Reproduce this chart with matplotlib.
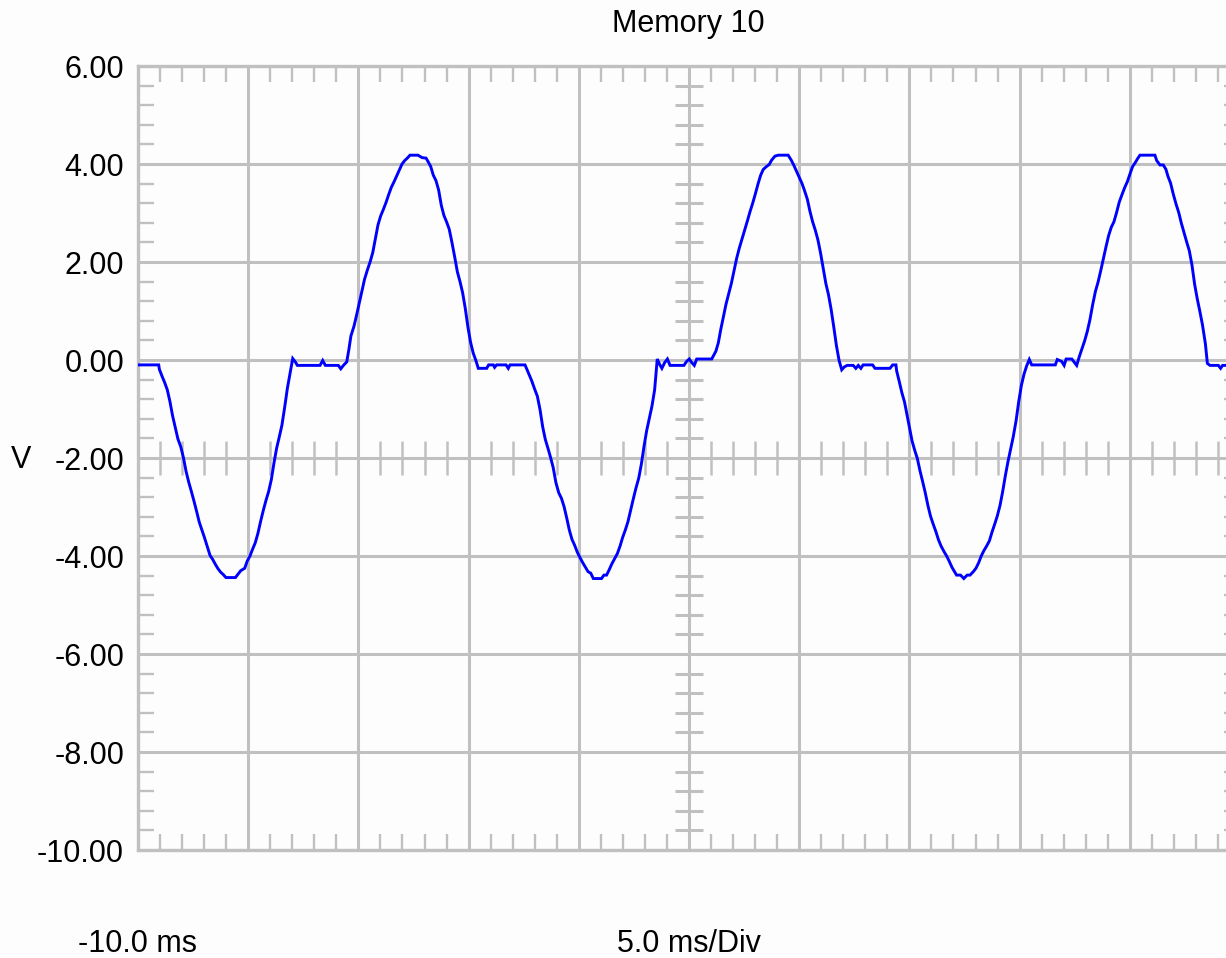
import numpy as np
import matplotlib
matplotlib.use("Agg")
import matplotlib.pyplot as plt
from matplotlib.ticker import MultipleLocator, FixedLocator

plt.rcParams['font.family'] = ['Liberation Sans', 'DejaVu Sans']

# ---------------- data ----------------
title = "Memory 10"
y_label = "V"
x_start_label = "-10.0 ms"
x_scale_label = "5.0 ms/Div"
y_tick_values = [6, 4, 2, 0, -2, -4, -6, -8, -10]
y_tick_labels = ["6.00", "4.00", "2.00", "0.00", "-2.00", "-4.00", "-6.00", "-8.00", "-10.00"]

t_ms = [
    -10.00, -9.06, -9.03, -8.91, -8.79, -8.67, -8.55, -8.43, -8.31, -8.19, -8.06,
    -7.94, -7.82, -7.70, -7.58, -7.46, -7.34, -7.22, -7.10, -6.98, -6.85, -6.73,
    -6.61, -6.49, -6.37, -6.25, -6.13, -6.01, -5.58, -5.46, -5.34, -5.16, -5.04,
    -4.92, -4.80, -4.68, -4.56, -4.43, -4.31, -4.19, -4.07, -3.95, -3.83, -3.71,
    -3.59, -3.47, -3.35, -3.22, -3.10, -2.98, -2.86, -2.77, -1.74, -1.62, -1.50,
    -0.91, -0.80, -0.68, -0.53, -0.43, -0.34, -0.20, -0.08, 0.04, 0.16, 0.28,
    0.41, 0.53, 0.65, 0.77, 0.89, 1.01, 1.13, 1.25, 1.37, 1.49, 1.62, 1.74, 1.86,
    1.98, 2.10, 2.22, 2.34, 2.70, 2.89, 3.07, 3.16, 3.28, 3.40, 3.52, 3.64, 3.76,
    3.88, 4.00, 4.12, 4.24, 4.37, 4.49, 4.61, 4.73, 4.85, 4.97, 5.09, 5.21, 5.33,
    5.44, 5.82, 5.91, 6.12, 6.18, 6.27, 6.70, 6.80, 6.88, 7.56, 7.71, 7.86, 8.01,
    8.12, 8.24, 8.36, 8.48, 8.60, 8.72, 8.84, 8.96, 9.09, 9.21, 9.33, 9.45, 9.57,
    9.69, 9.81, 9.93, 10.05, 10.17, 10.29, 10.42, 10.54, 10.66, 11.03, 11.14,
    11.26, 11.38, 11.50, 11.63, 11.75, 11.87, 11.99, 12.11, 12.23, 12.35, 12.47,
    12.59, 12.72, 12.84, 12.96, 13.08, 13.20, 13.32, 13.44, 13.56, 13.68, 13.77,
    13.90, 14.02, 14.14, 14.77, 14.89, 15.01, 15.12, 15.24, 15.35, 16.03, 16.10,
    16.22, 16.33, 16.44, 16.56, 16.68, 16.80, 16.92, 17.04, 17.16, 17.28, 17.40,
    17.53, 17.65, 17.77, 17.89, 18.01, 18.13, 18.25, 18.37, 18.52, 18.64, 18.75,
    18.90, 19.05, 19.50, 19.65, 19.76, 19.88, 20.00, 20.12, 20.24, 20.37, 20.49,
    20.61, 20.73, 20.85, 20.97, 21.09, 21.21, 21.33, 21.45, 21.57, 21.69, 21.81,
    21.93, 22.05, 22.18, 22.45, 22.57, 22.68, 22.80, 22.90, 23.33, 23.44, 24.12,
    24.24, 24.39, 24.42, 24.54, 24.66, 24.78, 24.87, 24.99, 25.12, 25.24, 25.36,
    25.48, 25.60, 25.72, 25.84, 25.96, 26.08, 26.20, 26.32, 26.44, 26.57, 26.69,
    26.81, 26.93, 27.05, 27.14, 27.32, 27.47, 27.62, 27.75, 27.90, 28.02, 28.14,
    28.26, 28.38, 28.50, 28.63, 28.75, 28.87, 28.99, 29.11, 29.23, 29.35, 29.47,
    29.59, 29.71, 29.84, 29.96, 30.08, 30.20, 30.32, 30.44, 30.55, 31.53, 31.62,
    31.71, 31.91, 32.02, 32.11, 32.37, 32.47, 32.59, 32.71, 32.83, 32.95, 33.07,
    33.19, 33.32, 33.44, 33.56, 33.68, 33.80, 33.92, 34.04, 34.16, 34.28, 34.40,
    34.52, 34.65, 34.77, 34.89, 35.01, 35.13, 35.25, 35.37, 35.46, 36.14, 36.22,
    36.37, 36.52, 36.64, 36.73, 36.85, 36.97, 37.10, 37.22, 37.34, 37.46, 37.58,
    37.70, 37.82, 37.94, 38.06, 38.18, 38.30, 38.43, 38.52, 38.64, 39.02, 39.12,
    39.21, 39.36, 40.00,
]

volts = [
    -0.10, -0.10, -0.19, -0.33, -0.46, -0.61, -0.85, -1.14, -1.38, -1.61, -1.77,
    -1.99, -2.27, -2.49, -2.68, -2.88, -3.09, -3.31, -3.47, -3.63, -3.82, -3.99,
    -4.07, -4.17, -4.26, -4.33, -4.38, -4.44, -4.44, -4.37, -4.30, -4.25, -4.10,
    -4.00, -3.86, -3.73, -3.54, -3.28, -3.06, -2.86, -2.68, -2.44, -2.10, -1.80,
    -1.57, -1.33, -0.98, -0.57, -0.27, 0.03, -0.04, -0.11, -0.11, -0.01, -0.11,
    -0.11, -0.18, -0.11, -0.04, 0.22, 0.49, 0.69, 0.92, 1.16, 1.41, 1.65,
    1.84, 2.00, 2.19, 2.48, 2.76, 2.94, 3.07, 3.21, 3.37, 3.52, 3.64, 3.76, 3.88,
    4.00, 4.07, 4.12, 4.18, 4.18, 4.13, 4.12, 4.05, 3.95, 3.77, 3.66, 3.47, 3.16,
    2.95, 2.82, 2.67, 2.41, 2.10, 1.80, 1.60, 1.37, 1.05, 0.67, 0.36, 0.14, -0.01,
    -0.17, -0.17, -0.10, -0.10, -0.15, -0.10, -0.10, -0.17, -0.10, -0.10, -0.26, -0.42, -0.61,
    -0.74, -1.01, -1.36, -1.62, -1.80, -1.99, -2.20, -2.50, -2.71, -2.82, -2.99, -3.22, -3.47,
    -3.66, -3.78, -3.92, -4.03, -4.13, -4.22, -4.32, -4.35, -4.46, -4.46, -4.39,
    -4.39, -4.28, -4.16, -4.05, -3.95, -3.80, -3.62, -3.47, -3.30, -3.07, -2.84,
    -2.62, -2.41, -2.12, -1.76, -1.44, -1.19, -0.94, -0.61, 0.02, -0.10, -0.17,
    -0.05, 0.02, -0.11, -0.11, -0.03, 0.02, -0.05, -0.11, 0.02, 0.02, 0.08,
    0.18, 0.35, 0.62, 0.88, 1.14, 1.35, 1.56, 1.82, 2.07, 2.28, 2.46,
    2.65, 2.84, 3.03, 3.20, 3.39, 3.59, 3.77, 3.89, 3.95, 3.99, 4.08,
    4.16, 4.18, 4.18, 4.07, 3.97, 3.85, 3.73, 3.61, 3.46, 3.28, 3.03,
    2.82, 2.65, 2.45, 2.18, 1.87, 1.56, 1.33, 1.03, 0.67, 0.29, -0.01,
    -0.20, -0.14, -0.11, -0.11, -0.17, -0.11, -0.17, -0.10, -0.10, -0.17, -0.17,
    -0.10, -0.10, -0.22, -0.44, -0.67, -0.86, -1.07, -1.35, -1.65, -1.84, -2.01,
    -2.26, -2.48, -2.71, -2.97, -3.19, -3.35, -3.50, -3.67, -3.80, -3.91, -4.00,
    -4.11, -4.23, -4.32, -4.39, -4.39, -4.46, -4.39, -4.39, -4.32, -4.25, -4.14,
    -4.00, -3.89, -3.80, -3.69, -3.51, -3.35, -3.18, -2.97, -2.69, -2.37, -2.08,
    -1.82, -1.57, -1.24, -0.85, -0.52, -0.29, -0.12, 0.01, -0.10, -0.10, -0.10,
    0.01, -0.03, -0.11, 0.02, 0.02, -0.04, -0.11, 0.07, 0.23, 0.39, 0.58,
    0.82, 1.14, 1.40, 1.59, 1.82, 2.07, 2.31, 2.54, 2.71, 2.82, 3.01,
    3.22, 3.38, 3.52, 3.64, 3.80, 3.95, 4.03, 4.12, 4.18, 4.18, 4.07,
    3.98, 3.98, 3.89, 3.75, 3.61, 3.39, 3.18, 3.01, 2.79, 2.60, 2.41,
    2.23, 1.94, 1.55, 1.25, 0.99, 0.71, 0.33, -0.07, -0.11, -0.11, -0.17,
    -0.11, -0.11, -0.11,
]

# ---------------- figure ----------------
W, H = 1226, 958
fig = plt.figure(figsize=(W / 100, H / 100), dpi=100, facecolor='#FDFDFD')
# plot area: x 138..1240 px (cropped at the right edge), y 66..850 px
ax = fig.add_axes([138 / W, (H - 850) / H, 1102 / W, 784 / H])
ax.set_facecolor('#FDFDFD')

grid_c = '#C0C0C0'
fs = 22
ax.set_xlim(-10, 40)
ax.set_ylim(-10, 6)

ax.xaxis.set_major_locator(MultipleLocator(5))
ax.xaxis.set_minor_locator(MultipleLocator(1))
ax.yaxis.set_major_locator(FixedLocator(y_tick_values))
ax.yaxis.set_minor_locator(MultipleLocator(0.4))
ax.set_yticklabels(y_tick_labels)

ax.grid(True, which='major', color=grid_c, linewidth=2.2, zorder=1)
ax.set_axisbelow(True)
for s in ax.spines.values():
    s.set_color(grid_c)
    s.set_linewidth(2.4)

ax.tick_params(which='major', length=0, pad=10, labelsize=fs, labelcolor='black',
               labelbottom=False)
ax.tick_params(which='minor', direction='in', length=11.5, width=1.7, color=grid_c,
               top=True, right=True, bottom=True, left=True)

# center cross ticks (scope graticule)
xminor = [v for v in np.arange(-10, 40.001, 1.0) if abs(v / 5 - round(v / 5)) > 1e-6]
yminor = [v for v in np.arange(-10, 6.001, 0.4) if abs(v / 2 - round(v / 2)) > 1e-6]
ax.plot(xminor, [-2] * len(xminor), linestyle='none', marker='|', markersize=24,
        markeredgewidth=1.8, color=grid_c, zorder=1.5, clip_on=False)
ax.plot([15] * len(yminor), yminor, linestyle='none', marker='_', markersize=20,
        markeredgewidth=2.2, color=grid_c, zorder=1.5, clip_on=False)

# trace
ax.plot(t_ms, volts, color='#0000FF', linewidth=2.1, zorder=3,
        solid_joinstyle='miter')

# texts
fig.text(688 / W, 1 - 24 / H, title, ha='center', va='center', fontsize=fs)
fig.text(21 / W, 1 - 460 / H, y_label, ha='center', va='center', fontsize=fs)
xt = ax.get_xaxis_transform()
ax.text(-10, -(944 - 850) / 784, x_start_label, transform=xt, ha='center', va='center',
        fontsize=fs)
ax.text(15, -(944 - 850) / 784, x_scale_label, transform=xt, ha='center', va='center',
        fontsize=fs)

fig.savefig('out.png', dpi=100, facecolor=fig.get_facecolor())
